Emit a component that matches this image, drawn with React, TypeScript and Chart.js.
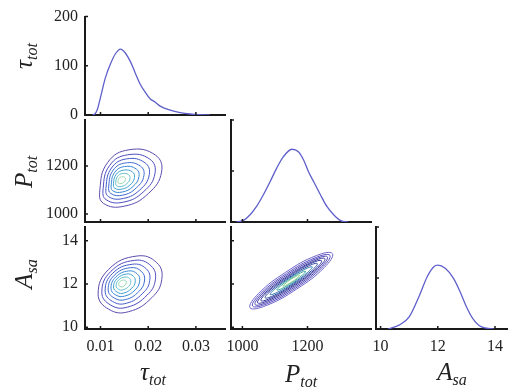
import React, { useEffect, useRef } from 'react';
import { Chart, registerables } from 'chart.js';
Chart.register(...registerables);

const CW = 511;
const CH = 389;
const Y_BOX = 60;
const X_BOX = 40;

// ---- tick values ----
const tauTicks = [0.01, 0.02, 0.03];
const pTicks = [1000, 1200];
const aTicks = [10, 12, 14];
const tauDensTicks = [0, 100, 200];
const relTicks = [0, 0.5, 1];

// ---- 1D marginal densities ----
const tauX = [0.0083, 0.0088, 0.0093, 0.01, 0.011, 0.0121, 0.0131, 0.0142, 0.0152, 0.0163, 0.0173, 0.0183, 0.0194, 0.0204, 0.0215, 0.0225, 0.0246, 0.0267, 0.0288, 0.0308, 0.0329];
const tauDens = [0, 2, 10, 36, 75, 104, 124, 134, 126, 108, 85, 63, 46, 33, 26, 18, 10, 5, 2, 0.5, 0];

const pX = [981, 1002, 1023, 1043, 1064, 1085, 1105, 1126, 1152, 1172, 1188, 1203, 1219, 1240, 1260, 1281, 1302, 1325];
const pDens = [0, 0.013, 0.069, 0.15, 0.265, 0.395, 0.526, 0.64, 0.713, 0.689, 0.608, 0.493, 0.395, 0.265, 0.15, 0.069, 0.013, 0];

const aX = [10.26, 10.66, 11.0, 11.34, 11.63, 11.86, 12.0, 12.26, 12.55, 12.78, 13.0, 13.22, 13.51, 13.97];
const aDens = [0, 0.04, 0.12, 0.317, 0.513, 0.611, 0.627, 0.595, 0.497, 0.366, 0.219, 0.105, 0.023, 0];

// ---- 2D contour levels (outer -> inner), vertices ----
const tauPContours = [
  [[0.00986, 1100], [0.0115, 1215], [0.016, 1268], [0.0215, 1246], [0.0228, 1175], [0.02, 1085], [0.015, 1033], [0.0106, 1045]],
  [[0.01055, 1106], [0.01193, 1203], [0.01571, 1247], [0.02033, 1229], [0.02142, 1169], [0.01907, 1094], [0.01487, 1050], [0.01118, 1060]],
  [[0.01116, 1112], [0.01231, 1192], [0.01546, 1230], [0.01931, 1214], [0.02022, 1164], [0.01826, 1101], [0.01476, 1065], [0.01168, 1073]],
  [[0.01173, 1117], [0.01266, 1183], [0.01523, 1213], [0.01836, 1200], [0.0191, 1160], [0.0175, 1109], [0.01466, 1079], [0.01215, 1086]],
  [[0.01225, 1122], [0.01298, 1174], [0.01501, 1198], [0.01749, 1188], [0.01807, 1156], [0.01681, 1115], [0.01456, 1092], [0.01258, 1097]],
  [[0.01272, 1126], [0.01328, 1165], [0.01481, 1183], [0.01668, 1176], [0.01712, 1152], [0.01617, 1121], [0.01447, 1104], [0.01298, 1108]],
  [[0.0132, 1131], [0.01358, 1157], [0.01461, 1169], [0.01588, 1164], [0.01618, 1148], [0.01553, 1127], [0.01438, 1115], [0.01337, 1118]],
  [[0.01368, 1135], [0.01388, 1149], [0.01442, 1155], [0.01508, 1153], [0.01523, 1144], [0.0149, 1133], [0.0143, 1127], [0.01377, 1129]],
];

const tauAContours = [
  [[0.0095, 11.53], [0.01174, 12.68], [0.01764, 13.29], [0.0218, 12.98], [0.02285, 12.22], [0.02077, 11.37], [0.0159, 10.72], [0.01174, 10.83]],
  [[0.01028, 11.61], [0.01217, 12.58], [0.01712, 13.09], [0.02062, 12.83], [0.0215, 12.19], [0.01975, 11.48], [0.01566, 10.93], [0.01217, 11.02]],
  [[0.01097, 11.68], [0.01254, 12.49], [0.01667, 12.91], [0.01958, 12.7], [0.02032, 12.16], [0.01886, 11.57], [0.01545, 11.11], [0.01254, 11.19]],
  [[0.01161, 11.74], [0.01288, 12.4], [0.01625, 12.75], [0.01862, 12.57], [0.01922, 12.14], [0.01803, 11.65], [0.01526, 11.28], [0.01288, 11.35]],
  [[0.0122, 11.8], [0.0132, 12.32], [0.01586, 12.6], [0.01773, 12.46], [0.0182, 12.12], [0.01727, 11.73], [0.01508, 11.44], [0.0132, 11.49]],
  [[0.01273, 11.86], [0.0135, 12.25], [0.0155, 12.46], [0.01692, 12.35], [0.01727, 12.09], [0.01657, 11.81], [0.01491, 11.58], [0.0135, 11.62]],
  [[0.01327, 11.91], [0.01379, 12.18], [0.01515, 12.32], [0.0161, 12.25], [0.01634, 12.07], [0.01587, 11.88], [0.01475, 11.73], [0.01379, 11.75]],
  [[0.01381, 11.97], [0.01408, 12.11], [0.01479, 12.18], [0.01529, 12.14], [0.01541, 12.05], [0.01516, 11.95], [0.01458, 11.87], [0.01408, 11.89]],
];

const pAContours = [
  [[1276.5, 13.4], [1251.5, 12.76], [1167.1, 11.77], [1072.7, 11.0], [1023.5, 10.9], [1048.5, 11.54], [1132.9, 12.54], [1227.3, 13.31]],
  [[1268.8, 13.32], [1244.3, 12.75], [1164.5, 11.82], [1076.3, 11.09], [1031.2, 10.98], [1055.7, 11.55], [1135.5, 12.48], [1223.7, 13.21]],
  [[1261, 13.25], [1237.2, 12.73], [1162.3, 11.87], [1080.2, 11.18], [1039, 11.05], [1062.8, 11.57], [1137.7, 12.43], [1219.8, 13.12]],
  [[1253.3, 13.17], [1230.3, 12.71], [1160.3, 11.92], [1084.3, 11.27], [1046.7, 11.13], [1069.7, 11.59], [1139.7, 12.38], [1215.7, 13.03]],
  [[1243, 13.07], [1221.8, 12.66], [1158.6, 11.96], [1090.3, 11.37], [1057, 11.23], [1078.2, 11.64], [1141.4, 12.34], [1209.7, 12.94]],
  [[1230, 12.94], [1211.4, 12.6], [1156.8, 12.0], [1098.2, 11.48], [1070, 11.36], [1088.6, 11.7], [1143.2, 12.3], [1201.8, 12.82]],
  [[1214.6, 12.79], [1199.2, 12.52], [1155.1, 12.03], [1108, 11.62], [1085.4, 11.51], [1100.8, 11.78], [1144.9, 12.27], [1192, 12.68]],
  [[1193.9, 12.58], [1183.4, 12.4], [1153.4, 12.07], [1121.4, 11.79], [1106.1, 11.72], [1116.6, 11.9], [1146.6, 12.23], [1178.6, 12.51]],
  [[1175.8, 12.41], [1169.8, 12.3], [1152.1, 12.1], [1133.2, 11.94], [1124.2, 11.9], [1130.3, 12.0], [1147.9, 12.2], [1166.9, 12.36]],
];

const lightLevelColors = ['#5a4cae', '#4e4cc0', '#4358c8', '#3b6ccf', '#3a88d4', '#42a4d2', '#62bec6', '#98d6ac'];
const denseLevelColors = ['#6c63c8', '#5a50be', '#4840b0', '#3a36a0', '#2e3494', '#2c4aa0', '#2f78b0', '#3eaa9c', '#8fd08a'];
const densityColor = '#5f5fcc';

const FONT = '"Liberation Serif", "DejaVu Serif", serif';

function toPoints(xs: number[], ys: number[]) {
  return xs.map((x, i) => ({ x, y: ys[i] }));
}

function closedLevel(pts: number[][], color: string) {
  const n = pts.length;
  const seq = [pts[n - 1], ...pts, pts[0], pts[1]].map(([x, y]) => ({ x, y }));
  const last = seq.length - 1;
  return {
    data: seq,
    borderColor: color,
    borderWidth: 1,
    pointRadius: 0,
    tension: 0.45,
    fill: false,
    segment: {
      borderColor: (ctx: any) => (ctx.p0DataIndex === 0 || ctx.p1DataIndex === last ? 'rgba(0,0,0,0)' : undefined),
    },
  };
}

function densityDataset(xs: number[], ys: number[]) {
  return {
    data: toPoints(xs, ys),
    borderColor: densityColor,
    borderWidth: 1.3,
    pointRadius: 0,
    cubicInterpolationMode: 'monotone',
    fill: false,
  };
}

const innerTicks = {
  id: 'innerTicks',
  afterDraw(chart: any) {
    const { ctx, chartArea } = chart;
    const xs = chart.scales.x;
    const ys = chart.scales.y;
    ctx.save();
    ctx.strokeStyle = '#1a1a1a';
    ctx.lineWidth = 1.5;
    ctx.beginPath();
    xs.ticks.forEach((t: any) => {
      const px = xs.getPixelForValue(t.value);
      ctx.moveTo(px, chartArea.bottom);
      ctx.lineTo(px, chartArea.bottom - 3);
    });
    ys.ticks.forEach((t: any) => {
      const py = ys.getPixelForValue(t.value);
      ctx.moveTo(chartArea.left, py);
      ctx.lineTo(chartArea.left + 3, py);
    });
    ctx.stroke();
    ctx.restore();
  },
};

type AxisSpec = { min: number; max: number; ticks: number[]; labels: boolean };
type PanelSpec = { area: [number, number, number, number]; x: AxisSpec; y: AxisSpec; datasets: any[] };

function axis(a: AxisSpec, which: 'x' | 'y') {
  return {
    type: 'linear',
    position: which === 'x' ? 'bottom' : 'left',
    min: a.min,
    max: a.max,
    grid: { display: false, drawTicks: false },
    border: { display: true, color: '#1a1a1a', width: 2 },
    ticks: {
      display: a.labels,
      font: { family: FONT, size: 16 },
      color: '#222',
      padding: which === 'x' ? 8 : 7,
      maxRotation: 0,
      autoSkip: false,
      callback: (v: any) => String(v),
    },
    afterBuildTicks: (s: any) => {
      s.ticks = a.ticks.map((v) => ({ value: v }));
    },
    afterFit: (s: any) => {
      if (which === 'x') s.height = X_BOX;
      else s.width = Y_BOX;
    },
  };
}

const tauRange = { min: 0.00675, max: 0.0361 };
const pRangeX = { min: 965, max: 1395 };
const pRangeY = { min: 967, max: 1392 };
const aRangeY = { min: 9.92, max: 14.63 };
const aRangeX = { min: 9.84, max: 14.45 };

const panels: PanelSpec[] = [
  {
    area: [85, 13, 225, 115],
    x: { ...tauRange, ticks: tauTicks, labels: false },
    y: { min: 0, max: 200, ticks: tauDensTicks, labels: true },
    datasets: [densityDataset(tauX, tauDens)],
  },
  {
    area: [85, 120, 225, 222],
    x: { ...tauRange, ticks: tauTicks, labels: false },
    y: { ...pRangeY, ticks: pTicks, labels: true },
    datasets: tauPContours.map((lv, i) => closedLevel(lv, lightLevelColors[i])),
  },
  {
    area: [85, 227, 225, 329],
    x: { ...tauRange, ticks: tauTicks, labels: true },
    y: { ...aRangeY, ticks: aTicks, labels: true },
    datasets: tauAContours.map((lv, i) => closedLevel(lv, lightLevelColors[i])),
  },
  {
    area: [231, 120, 371, 222],
    x: { ...pRangeX, ticks: pTicks, labels: false },
    y: { min: 0, max: 1, ticks: relTicks, labels: false },
    datasets: [densityDataset(pX, pDens)],
  },
  {
    area: [231, 227, 371, 329],
    x: { ...pRangeX, ticks: pTicks, labels: true },
    y: { ...aRangeY, ticks: aTicks, labels: false },
    datasets: pAContours.map((lv, i) => closedLevel(lv, denseLevelColors[i])),
  },
  {
    area: [376, 227, 511, 329],
    x: { ...aRangeX, ticks: aTicks, labels: true },
    y: { min: 0, max: 1, ticks: relTicks, labels: false },
    datasets: [densityDataset(aX, aDens)],
  },
];

function Panel({ spec }: { spec: PanelSpec }) {
  const ref = useRef<HTMLCanvasElement | null>(null);
  useEffect(() => {
    if (!ref.current) return;
    const [left, top, right, bottom] = spec.area;
    const chart = new Chart(ref.current, {
      type: 'line',
      data: { datasets: spec.datasets },
      options: {
        animation: false,
        responsive: false,
        maintainAspectRatio: false,
        events: [],
        layout: {
          padding: { left: left - Y_BOX, top, right: CW - right, bottom: CH - bottom - X_BOX },
        },
        plugins: { legend: { display: false }, tooltip: { enabled: false }, title: { display: false } },
        scales: { x: axis(spec.x, 'x'), y: axis(spec.y, 'y') },
      } as any,
      plugins: [innerTicks],
    } as any);
    return () => chart.destroy();
  }, [spec]);
  return (
    <canvas
      ref={ref}
      width={CW}
      height={CH}
      style={{ position: 'absolute', left: 0, top: 0, width: CW, height: CH, pointerEvents: 'none' }}
    />
  );
}

const titleBase: React.CSSProperties = {
  position: 'absolute',
  fontFamily: FONT,
  fontStyle: 'italic',
  fontSize: 25,
  color: '#222',
  whiteSpace: 'nowrap',
  lineHeight: 1,
};
const subStyle: React.CSSProperties = { fontSize: 16, position: 'relative', top: 5 };

function Title({ main, sub, x, y, rotate }: { main: string; sub: string; x: number; y: number; rotate?: boolean }) {
  return (
    <div
      style={{
        ...titleBase,
        left: x,
        top: y,
        transform: `translate(-50%, -50%)${rotate ? ' rotate(-90deg)' : ''}`,
      }}
    >
      {main}
      <span style={subStyle}>{sub}</span>
    </div>
  );
}

export default function App() {
  return (
    <div style={{ position: 'fixed', left: 0, top: 0, width: CW, height: CH, background: '#fff', overflow: 'hidden' }}>
      {panels.map((p, i) => (
        <Panel key={i} spec={p} />
      ))}
      <Title main="τ" sub="tot" x={23} y={56} rotate />
      <Title main="P" sub="tot" x={23} y={172} rotate />
      <Title main="A" sub="sa" x={23} y={274} rotate />
      <Title main="τ" sub="tot" x={153} y={371} />
      <Title main="P" sub="tot" x={301} y={373} />
      <Title main="A" sub="sa" x={452} y={371} />
    </div>
  );
}
